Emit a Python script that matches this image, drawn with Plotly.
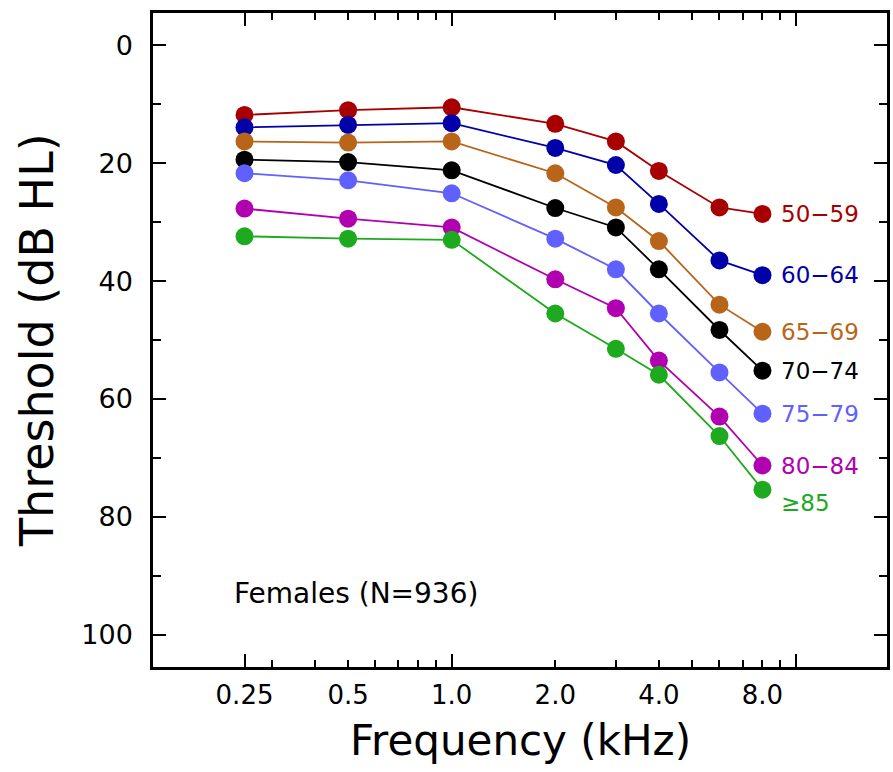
import math
import plotly.graph_objects as go

freqs = [0.25, 0.5, 1.0, 2.0, 3.0, 4.0, 6.0, 8.0]
groups = ["50\u221259", "60\u221264", "65\u221269", "70\u221274", "75\u221279", "80\u221284", "\u226585"]
colors = ["#a80000", "#0000a8", "#b8651a", "#000000", "#6060ff", "#b000b0", "#1eaa1e"]
thr_50_59 = [11.8, 11.0, 10.5, 13.3, 16.3, 21.3, 27.5, 28.6]
thr_60_64 = [13.9, 13.5, 13.2, 17.4, 20.3, 26.9, 36.5, 39.0]
thr_65_69 = [16.3, 16.5, 16.3, 21.7, 27.5, 33.2, 44.0, 48.6]
thr_70_74 = [19.4, 19.8, 21.2, 27.6, 30.9, 38.0, 48.3, 55.2]
thr_75_79 = [21.7, 22.9, 25.1, 32.8, 38.0, 45.5, 55.5, 62.5]
thr_80_84 = [27.7, 29.4, 30.9, 39.7, 44.6, 53.5, 63.0, 71.3]
thr_85 = [32.4, 32.8, 33.0, 45.5, 51.5, 55.9, 66.3, 75.4]
series = [thr_50_59, thr_60_64, thr_65_69, thr_70_74, thr_75_79, thr_80_84, thr_85]
label_yshift = [0, 0, 0, 0, 0, 0, -13]

xtick_vals = [0.25, 0.5, 1.0, 2.0, 4.0, 8.0]
xtick_text = ["0.25", "0.5", "1.0", "2.0", "4.0", "8.0"]
xminor_vals = [0.3, 0.4, 0.6, 0.7, 0.8, 0.9, 3, 5, 6, 7, 9]
xlong_vals = [0.25, 1.0, 10.0]
ytick_vals = [0, 20, 40, 60, 80, 100]
yminor_vals = [10, 30, 50, 70, 90]

FONT = "DejaVu Sans"

fig = go.Figure()
for name, vals, col in zip(groups, series, colors):
    fig.add_trace(go.Scatter(
        x=freqs, y=vals, mode="lines+markers", name=name,
        line=dict(color=col, width=1.8),
        marker=dict(color=col, size=18),
        showlegend=False,
    ))

annotations = []
for name, vals, col, ys in zip(groups, series, colors, label_yshift):
    annotations.append(dict(
        x=math.log10(freqs[-1]), y=vals[-1], xref="x", yref="y",
        text=name, showarrow=False, xanchor="left", yanchor="middle",
        xshift=17, yshift=ys, font=dict(family=FONT, size=23, color=col),
    ))
annotations.append(dict(
    x=0.107, y=93, xref="paper", yref="y", text="Females (N=936)",
    showarrow=False, xanchor="left", yanchor="middle",
    font=dict(family=FONT, size=28, color="black"),
))
annotations.append(dict(
    x=0.5, y=-0.113, xref="paper", yref="paper", text="Frequency (kHz)",
    showarrow=False, xanchor="center", yanchor="middle",
    font=dict(family=FONT, size=42, color="black"),
))
annotations.append(dict(
    x=-0.158, y=0.5, xref="paper", yref="paper", text="Threshold (dB HL)",
    showarrow=False, xanchor="center", yanchor="middle", textangle=-90,
    font=dict(family=FONT, size=46, color="black"),
))

xrange = [-0.868, 1.265]
fig.update_layout(
    width=893, height=772,
    margin=dict(l=153, r=3, t=13, b=105),
    plot_bgcolor="white", paper_bgcolor="white",
    annotations=annotations,
    xaxis=dict(
        type="log", range=xrange,
        tickvals=xtick_vals, ticktext=xtick_text,
        ticks="inside", ticklen=7, tickwidth=2, tickcolor="black",
        minor=dict(tickvals=xminor_vals, ticks="inside", ticklen=7, tickwidth=2, tickcolor="black"),
        showline=True, linewidth=2.5, linecolor="black", mirror="ticks",
        showgrid=False, zeroline=False,
        tickfont=dict(family=FONT, size=26, color="black"),
        ticklabelstandoff=3,
    ),
    xaxis2=dict(
        type="log", range=xrange, overlaying="x", anchor="y", side="bottom",
        tickvals=xlong_vals, showticklabels=False,
        ticks="inside", ticklen=13, tickwidth=2, tickcolor="black",
        mirror="ticks", showline=False, showgrid=False, zeroline=False,
    ),
    yaxis=dict(
        range=[105.5, -5.5],
        tickvals=ytick_vals,
        ticks="inside", ticklen=13, tickwidth=2, tickcolor="black",
        minor=dict(tickvals=yminor_vals, ticks="inside", ticklen=8, tickwidth=2, tickcolor="black"),
        showline=True, linewidth=2.5, linecolor="black", mirror="ticks",
        showgrid=False, zeroline=False,
        tickfont=dict(family=FONT, size=27, color="black"),
        ticklabelstandoff=12,
    ),
)
fig.add_trace(go.Scatter(x=[1.0], y=[None], xaxis="x2", yaxis="y", showlegend=False, hoverinfo="skip"))

fig.write_html("out.html")
